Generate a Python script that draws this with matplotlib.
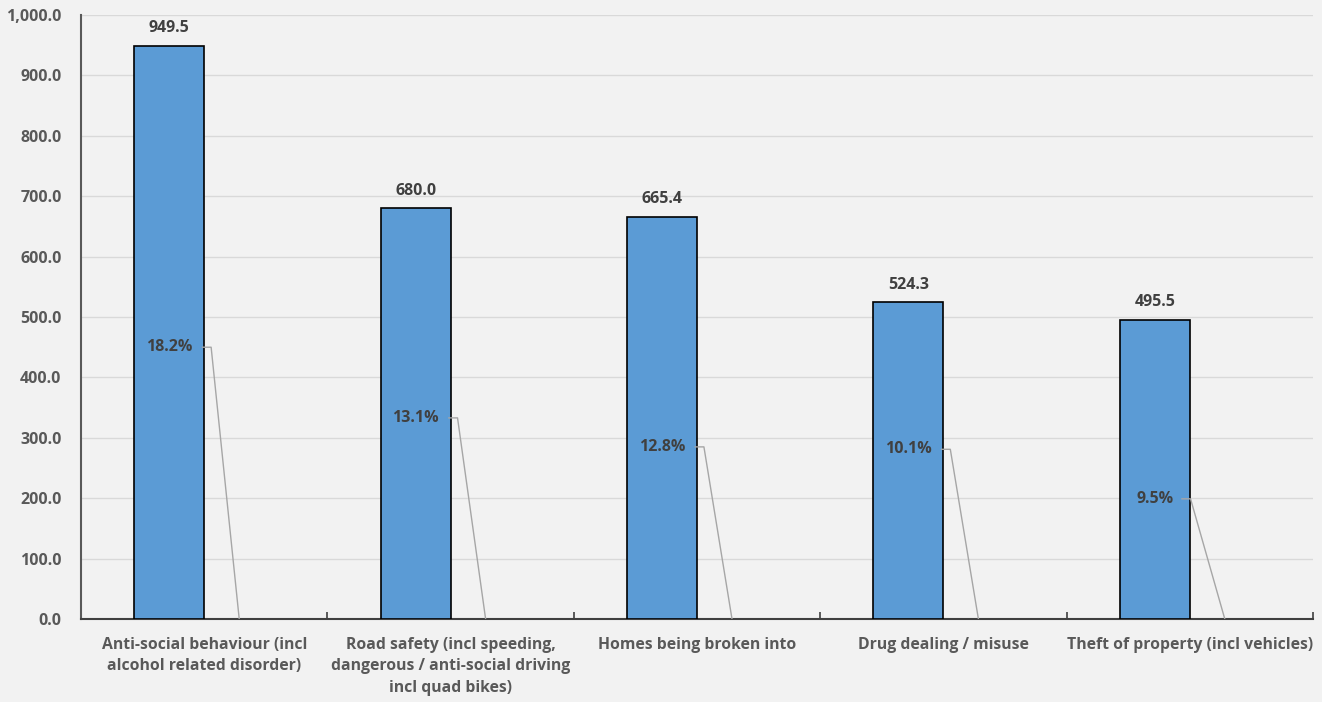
import matplotlib.pyplot as plt
import numpy as np

categories = ["Anti-social behaviour (incl\nalcohol related disorder)",
              "Road safety (incl speeding,\ndangerous / anti-social driving\nincl quad bikes)",
              "Homes being broken into",
              "Drug dealing / misuse",
              "Theft of property (incl vehicles)"]
values = [949.5, 680.0, 665.4, 524.3, 495.5]
pct_labels = ["18.2%", "13.1%", "12.8%", "10.1%", "9.5%"]
# hidden second series (all zero) - the percentage leader lines point at it
zero_series = [0, 0, 0, 0, 0]
# height where each percentage label sits
pct_label_y = [450, 333, 285, 281, 199]

plt.rcParams['font.family'] = ['Open Sans', 'DejaVu Sans']
plt.rcParams['font.weight'] = 'bold'

fig = plt.figure(figsize=(13.22, 7.02), dpi=100, facecolor='#f2f2f2')
ax = fig.add_axes([0.0613, 0.1182, 0.9319, 0.8604])
ax.set_facecolor('#f2f2f2')

x = np.arange(len(categories))
w = 0.284
ax.bar(x - w / 2, values, w, color='#5b9bd5', edgecolor='black', linewidth=1.2, zorder=3)
ax.bar(x + w / 2, zero_series, w, color='none', zorder=3)

for xi, v in zip(x, values):
    ax.annotate(f"{v:.1f}", (xi - w / 2, v), xytext=(0, 7), textcoords='offset points',
                ha='center', va='bottom', fontsize=11.5, fontweight='bold', color='#404040')

for xi, lab, ly in zip(x, pct_labels, pct_label_y):
    cx = xi - w / 2
    ax.text(cx, ly, lab, ha='center', va='center', fontsize=11.5,
            fontweight='bold', color='#404040', zorder=4)
    x0 = cx + 0.025 * len(lab) + 0.01
    x1 = x0 + 0.035
    ax.plot([x0, x1, xi + w / 2], [ly, ly, 0], color='#a6a6a6', lw=1, zorder=4)

ax.set_xlim(-0.5, len(categories) - 0.5)
ax.set_ylim(0, 1000)
ax.set_yticks(np.arange(0, 1001, 100))
ax.set_yticklabels([f"{t:,.1f}" for t in np.arange(0, 1001, 100)])
ax.yaxis.grid(True, color='#d9d9d9', lw=1, zorder=0)
ax.tick_params(axis='y', length=0, labelsize=11.5, labelcolor='#595959', pad=14)

ax.set_xticks(x)
ax.set_xticklabels(categories, linespacing=1.45)
ax.tick_params(axis='x', length=0, labelsize=11.3, labelcolor='#595959', pad=13)
ax.set_xticks(np.arange(0.5, len(categories), 1), minor=True)
ax.tick_params(axis='x', which='minor', direction='in', length=5, color='#404040', width=1.2)

for s in ['top', 'right']:
    ax.spines[s].set_visible(False)
ax.spines['left'].set_color('#595959')
ax.spines['left'].set_linewidth(1.5)
ax.spines['bottom'].set_color('#404040')
ax.spines['bottom'].set_linewidth(1.5)

fig.savefig('out.png', dpi=100, facecolor=fig.get_facecolor())
